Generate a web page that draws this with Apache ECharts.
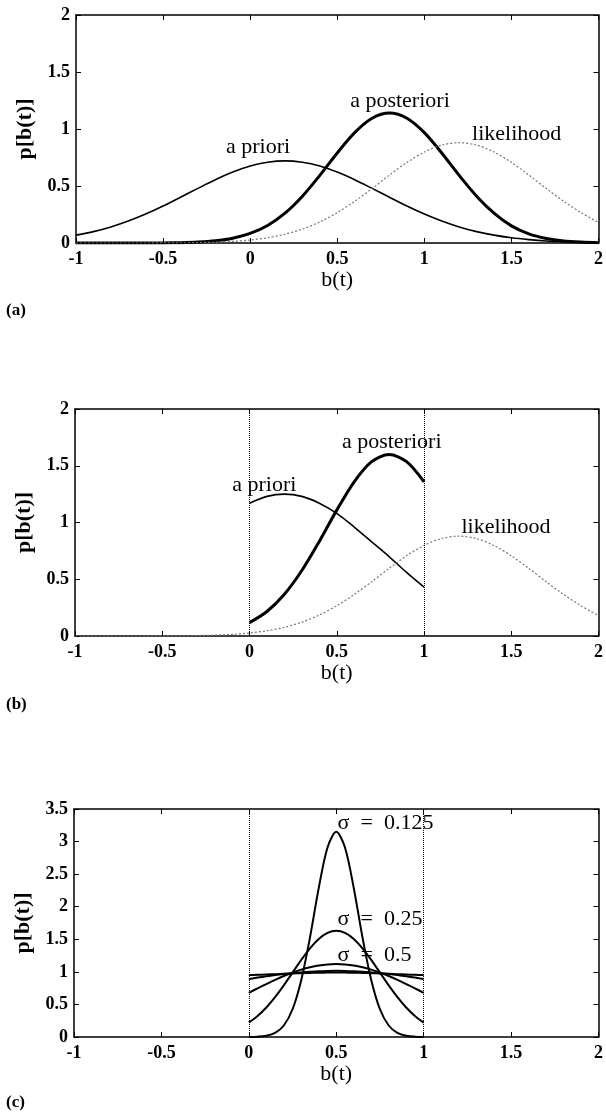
<!DOCTYPE html>
<html>
<head>
<meta charset="utf-8">
<script src="https://cdn.jsdelivr.net/npm/echarts@6/dist/echarts.min.js"></script>
<style>
  html, body { margin: 0; padding: 0; background: #fff; }
  #main { width: 606px; height: 1114px; }
</style>
</head>
<body>
<div id="main"></div>
<script>
// b(t) sampling for panels (a)/(b)
var bFull = [-1, -0.9, -0.8, -0.7, -0.6, -0.5, -0.4, -0.3, -0.2, -0.1, 0, 0.1, 0.2, 0.3, 0.4, 0.5,
             0.6, 0.7, 0.8, 0.9, 1, 1.1, 1.2, 1.3, 1.4, 1.5, 1.6, 1.7, 1.8, 1.9, 2];
var bUnit = [0, 0.1, 0.2, 0.3, 0.4, 0.5, 0.6, 0.7, 0.8, 0.9, 1];
var bFine = [0, 0.05, 0.1, 0.15, 0.2, 0.25, 0.3, 0.35, 0.4, 0.45, 0.5,
             0.55, 0.6, 0.65, 0.7, 0.75, 0.8, 0.85, 0.9, 0.95, 1];

// (a)
var aPrioriA = [0.069, 0.100, 0.141, 0.193, 0.254, 0.324, 0.401, 0.479, 0.555, 0.622, 0.675, 0.708, 0.720, 0.708, 0.675, 0.622,
                0.555, 0.479, 0.401, 0.324, 0.254, 0.193, 0.141, 0.100, 0.069, 0.046, 0.030, 0.018, 0.011, 0.007, 0.004];
var aPosterioriA = [0, 0, 0, 0, 0, 0.001, 0.003, 0.008, 0.019, 0.042, 0.084, 0.154, 0.262, 0.411, 0.593, 0.790,
                    0.968, 1.094, 1.140, 1.094, 0.968, 0.790, 0.593, 0.411, 0.262, 0.150, 0.080, 0.040, 0.018, 0.008, 0.003];
var likelihood = [0, 0, 0, 0, 0, 0.001, 0.002, 0.004, 0.007, 0.014, 0.026, 0.046, 0.077, 0.122, 0.185, 0.266,
                  0.366, 0.478, 0.596, 0.707, 0.798, 0.859, 0.880, 0.859, 0.798, 0.707, 0.596, 0.478, 0.366, 0.266, 0.180];

// (b) truncated to [0,1]
var aPrioriB = [1.17, 1.23, 1.25, 1.23, 1.17, 1.08, 0.96, 0.83, 0.70, 0.56, 0.43];
var aPosterioriB = [0.118, 0.216, 0.368, 0.577, 0.833, 1.109, 1.359, 1.536, 1.600, 1.536, 1.359];

// (c)
var sig0125 = [0.001, 0.005, 0.019, 0.063, 0.177, 0.426, 0.876, 1.53, 2.29, 2.91, 3.15,
               2.91, 2.29, 1.53, 0.876, 0.426, 0.177, 0.063, 0.019, 0.005, 0.001];
var sig025 = [0.221, 0.323, 0.453, 0.612, 0.793, 0.989, 1.184, 1.361, 1.505, 1.598, 1.63,
              1.598, 1.505, 1.361, 1.184, 0.989, 0.793, 0.612, 0.453, 0.323, 0.221];
var sig05 = [0.679, 0.747, 0.813, 0.877, 0.936, 0.988, 1.034, 1.071, 1.098, 1.114, 1.12,
             1.114, 1.098, 1.071, 1.034, 0.988, 0.936, 0.877, 0.813, 0.747, 0.679];
var sig1 = [0.89, 0.912, 0.932, 0.95, 0.966, 0.98, 0.992, 1.002, 1.01, 1.015, 1.017,
            1.015, 1.01, 1.002, 0.992, 0.98, 0.966, 0.95, 0.932, 0.912, 0.89];
var sig2 = [0.95, 0.955, 0.96, 0.965, 0.97, 0.975, 0.98, 0.984, 0.987, 0.989, 0.99,
            0.989, 0.987, 0.984, 0.98, 0.975, 0.97, 0.965, 0.96, 0.955, 0.95];

var xTicks = { min: -1, max: 2, interval: 0.5 };
var yMaxAB = 2, yMaxC = 3.5;

var SERIF = '"Liberation Serif", "Times New Roman", serif';

function pts(xs, ys) {
    return xs.map(function (x, i) { return [x, ys[i]]; });
}

var grids = [
    { left: 76, top: 15, width: 528, height: 228 },
    { left: 75, top: 409, width: 529, height: 227 },
    { left: 74, top: 809, width: 530, height: 228 }
];

var axisLineStyle = { show: true, onZero: false, lineStyle: { color: '#000', width: 1.5 } };
var tickStyle = { inside: true, length: 5, lineStyle: { color: '#000' } };

var xAxes = [], yAxes = [];
grids.forEach(function (g, i) {
    var ymax = i === 2 ? yMaxC : yMaxAB;
    xAxes.push({
        gridIndex: i, type: 'value', position: 'bottom',
        min: xTicks.min, max: xTicks.max, interval: xTicks.interval,
        name: 'b(t)', nameLocation: 'middle', nameGap: 25,
        nameTextStyle: { fontFamily: SERIF, fontSize: 22, color: '#000' },
        axisLine: axisLineStyle,
        axisTick: tickStyle,
        axisLabel: { margin: 7, fontFamily: SERIF, fontWeight: 'bold', fontSize: 18, color: '#000' },
        splitLine: { show: false }
    });
    xAxes.push({
        gridIndex: i, type: 'value', position: 'top',
        min: xTicks.min, max: xTicks.max, interval: xTicks.interval,
        axisLine: axisLineStyle,
        axisTick: tickStyle,
        axisLabel: { show: false },
        splitLine: { show: false }
    });
    yAxes.push({
        gridIndex: i, type: 'value', position: 'left',
        min: 0, max: ymax, interval: 0.5,
        name: 'p[b(t)]', nameLocation: 'middle', nameGap: 32,
        nameTextStyle: { fontFamily: SERIF, fontWeight: 'bold', fontSize: 22, color: '#000' },
        axisLine: axisLineStyle,
        axisTick: tickStyle,
        axisLabel: { margin: 6, fontFamily: SERIF, fontWeight: 'bold', fontSize: 18, color: '#000' },
        splitLine: { show: false }
    });
    yAxes.push({
        gridIndex: i, type: 'value', position: 'right',
        min: 0, max: ymax, interval: 0.5,
        axisLine: axisLineStyle,
        axisTick: tickStyle,
        axisLabel: { show: false },
        splitLine: { show: false }
    });
});

function note(text, coord, pos) {
    return {
        symbol: 'circle', symbolSize: 1,
        itemStyle: { color: 'rgba(0,0,0,0)' },
        label: {
            show: true, position: pos || 'inside', distance: 0,
            formatter: text, fontFamily: SERIF, fontSize: 22, color: '#000'
        },
        data: [{ coord: coord }]
    };
}

var vLines = {
    symbol: ['none', 'none'], silent: true,
    label: { show: false },
    lineStyle: { type: 'dotted', color: '#000', width: 1 },
    data: [{ xAxis: 0 }, { xAxis: 1 }]
};

function line(xi, xs, ys, w, extra) {
    var s = {
        type: 'line', xAxisIndex: xi * 2, yAxisIndex: xi * 2,
        data: pts(xs, ys), smooth: 0.3, showSymbol: false, symbol: 'none',
        lineStyle: { color: '#000', width: w }
    };
    for (var k in extra) s[k] = extra[k];
    return s;
}

var dotted = { color: '#777', width: 1.2, type: [2, 2] };

var series = [
    // (a)
    line(0, bFull, aPrioriA, 1.6, { markPoint: note('a priori', [0.045, 0.84]) }),
    line(0, bFull, aPosterioriA, 3, { markPoint: note('a posteriori', [0.86, 1.24]) }),
    line(0, bFull, likelihood, 1, { lineStyle: dotted, markPoint: note('likelihood', [1.53, 0.95]) }),
    // (b)
    line(1, bUnit, aPrioriB, 1.6, { markPoint: note('a priori', [0.085, 1.33]), markLine: vLines }),
    line(1, bUnit, aPosterioriB, 3, { markPoint: note('a posteriori', [0.815, 1.71]) }),
    line(1, bFull, likelihood, 1, { lineStyle: dotted, markPoint: note('likelihood', [1.47, 0.96]) }),
    // (c)
    line(2, bFine, sig0125, 2, { markLine: vLines, markPoint: note('\u03c3  =  0.125', [0.505, 3.28], 'right') }),
    line(2, bFine, sig025, 2, { markPoint: note('\u03c3  =  0.25', [0.505, 1.81], 'right') }),
    line(2, bFine, sig05, 2, { markPoint: note('\u03c3  =  0.5', [0.505, 1.26], 'right') }),
    line(2, bFine, sig1, 2, {}),
    line(2, bFine, sig2, 2, {})
];

var chart = echarts.init(document.getElementById('main'));
chart.setOption({
    animation: false,
    backgroundColor: '#fff',
    grid: grids,
    xAxis: xAxes,
    yAxis: yAxes,
    series: series,
    graphic: [
        { type: 'text', left: 6, top: 302, style: { text: '(a)', fontFamily: SERIF, fontWeight: 'bold', fontSize: 17, fill: '#000' } },
        { type: 'text', left: 6, top: 696, style: { text: '(b)', fontFamily: SERIF, fontWeight: 'bold', fontSize: 17, fill: '#000' } },
        { type: 'text', left: 6, top: 1094, style: { text: '(c)', fontFamily: SERIF, fontWeight: 'bold', fontSize: 17, fill: '#000' } }
    ]
});

window.onresize = function () {
    chart.resize();
};
</script>
</body>
</html>
